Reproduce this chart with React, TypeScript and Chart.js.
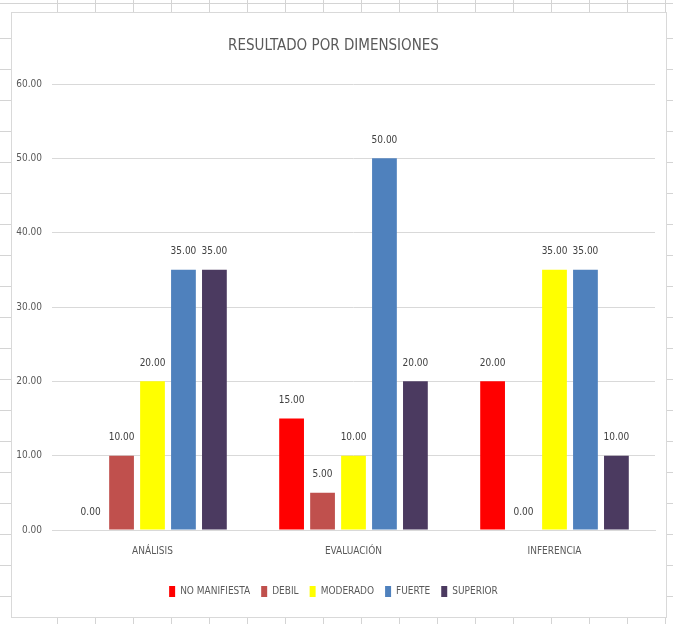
import React, { useEffect, useRef } from "react";
import { Chart, registerables } from "chart.js";

Chart.register(...registerables);

const categories = ["ANÁLISIS", "EVALUACIÓN", "INFERENCIA"];
const seriesNames = ["NO MANIFIESTA", "DEBIL", "MODERADO", "FUERTE", "SUPERIOR"];
const noManifiesta = [0, 15, 20];
const debil = [10, 5, 0];
const moderado = [20, 10, 35];
const fuerte = [35, 50, 35];
const superior = [35, 20, 10];
const seriesColors = ["#FF0000", "#C0504D", "#FFFF00", "#4F81BD", "#4B3A60"];
const yTicks = [0, 10, 20, 30, 40, 50, 60];

const FONT = "'Liberation Sans Narrow', 'DejaVu Sans Condensed', sans-serif";

const valueLabels = {
  id: "valueLabels",
  afterDatasetsDraw(chart: any) {
    const ctx = chart.ctx;
    ctx.save();
    ctx.font = `10px ${FONT}`;
    ctx.fillStyle = "#404040";
    ctx.textAlign = "center";
    ctx.textBaseline = "middle";
    chart.data.datasets.forEach((ds: any, i: number) => {
      const meta = chart.getDatasetMeta(i);
      meta.data.forEach((el: any, j: number) => {
        const v = ds.data[j];
        ctx.fillText(Number(v).toFixed(2), el.x, el.y - 18);
      });
    });
    ctx.restore();
  },
};

export default function App() {
  const ref = useRef<HTMLCanvasElement>(null);
  useEffect(() => {
    const seriesData = [noManifiesta, debil, moderado, fuerte, superior];
    const chart = new Chart(ref.current!, {
      type: "bar",
      data: {
        labels: categories,
        datasets: seriesNames.map((name, i) => ({
          label: name,
          data: seriesData[i],
          backgroundColor: seriesColors[i],
          borderWidth: 0,
          categoryPercentage: 0.77,
          barPercentage: 0.8,
        })),
      },
      options: {
        responsive: false,
        animation: false,
        layout: { padding: { left: 0, right: 11, top: 0, bottom: 10 } },
        plugins: {
          title: {
            display: true,
            text: "RESULTADO POR DIMENSIONES",
            color: "#595959",
            font: { family: FONT, size: 15, weight: "normal" },
            padding: { top: 24, bottom: 29 },
          },
          legend: {
            position: "bottom",
            labels: {
              boxWidth: 6,
              boxHeight: 11,
              padding: 11,
              color: "#595959",
              font: { family: FONT, size: 10 },
            },
          },
          tooltip: { enabled: false },
        },
        scales: {
          x: {
            afterFit(scale: any) {
              scale.height = 45;
            },
            grid: { display: false, drawTicks: false },
            border: { display: true, color: "#d9d9d9" },
            ticks: { color: "#595959", font: { family: FONT, size: 10 }, padding: 15 },
          },
          y: {
            min: yTicks[0],
            max: yTicks[yTicks.length - 1],
            afterFit(scale: any) {
              scale.width = 40;
            },
            afterBuildTicks(scale: any) {
              scale.ticks = yTicks.map((v) => ({ value: v }));
            },
            grid: { color: "#d9d9d9", drawTicks: false },
            border: { display: false },
            ticks: {
              color: "#595959",
              font: { family: FONT, size: 10 },
              padding: 10,
              callback: (v: any) => Number(v).toFixed(2),
            },
          },
        },
      },
      plugins: [valueLabels],
    });
    return () => chart.destroy();
  }, []);

  return (
    <div
      style={{
        position: "fixed",
        left: 0,
        top: 0,
        width: 673,
        height: 624,
        backgroundColor: "#ffffff",
        backgroundImage:
          "repeating-linear-gradient(90deg, transparent 0px, transparent 37px, #d4d4d4 37px, #d4d4d4 38px), repeating-linear-gradient(180deg, transparent 0px, transparent 30px, #d4d4d4 30px, #d4d4d4 31px)",
        backgroundPosition: "20px 8px",
      }}
    >
      <div
        style={{
          position: "absolute",
          left: 11,
          top: 12,
          width: 654,
          height: 604,
          border: "1px solid #d9d9d9",
          background: "#ffffff",
        }}
      >
        <canvas ref={ref} width={654} height={604} style={{ display: "block" }} />
      </div>
    </div>
  );
}
